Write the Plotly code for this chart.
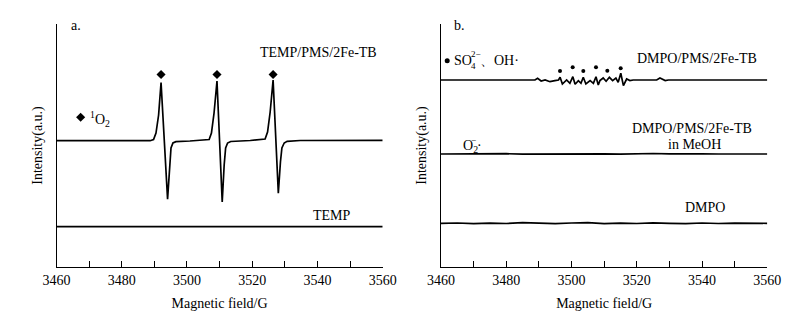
import plotly.graph_objects as go

# ---------------- data ----------------
# Panel a: TEMP/PMS/2Fe-TB spectrum (signal relative to its own baseline)
temp_pms_field = [3460, 3488.7, 3489.75, 3490.5, 3491.3, 3492.05, 3494.05, 3494.65, 3495.1,
                  3495.7, 3496.6, 3500.9, 3505.5, 3506.8, 3507.5, 3508.3, 3509.2, 3510.8,
                  3511.4, 3511.85, 3512.45, 3513.4, 3519.4, 3523.0, 3523.95, 3524.7, 3525.5,
                  3526.4, 3528.0, 3528.65, 3529.1, 3529.8, 3530.7, 3534.7, 3560]
temp_pms_signal = [0, 0, 1.2, 7.7, 25.7, 58.2, -58.6, -24.3, -7.3,
                   -2.3, -1.0, -0.3, 0.4, 1.2, 7.7, 27.7, 59.7, -61.3,
                   -24.3, -7.3, -2.3, -0.8, 0.2, 0.9, 1.7, 8.7, 28.7,
                   60.7, -52.6, -21.3, -7.3, -2.3, -0.6, 0.2, 0.4]
temp_pms_offset = 126.3

temp_field = [3460, 3560]
temp_signal = [0, 0]
temp_offset = 40.3

singlet_peak_field = [3492.05, 3509.2, 3526.4]
singlet_marker_level = 192.5

# Panel b: DMPO/PMS/2Fe-TB spectrum
dmpo_pms_field = [3460, 3487.3, 3488.8, 3489.6, 3490.7, 3491.9, 3493.4, 3494.9, 3496.0,
                  3496.5, 3497.2, 3498.5, 3499.5, 3500.4, 3501.1, 3502.1, 3502.9, 3503.6,
                  3504.4, 3505.7, 3506.7, 3507.5, 3508.2, 3508.7, 3509.7, 3510.6, 3511.6,
                  3512.6, 3513.6, 3514.3, 3515.1, 3515.9, 3516.9, 3517.9, 3518.9, 3526.1,
                  3527.1, 3528.7, 3529.7, 3560]
dmpo_pms_signal = [0, 0, 0, 1.7, -1.0, 0, -1.7, -0.7, 0,
                   2.7, -4.0, 0, -3.3, 3.3, -4.3, -0.7, -3.3, 2.7,
                   -4.0, -0.7, -3.3, 3.3, -5.0, -0.6, 2.0, -1.3, 2.7,
                   -0.6, 2.0, -2.3, 6.7, -5.6, 1.0, -0.6, 0, 0,
                   2.0, -0.6, 0, 0]
dmpo_pms_offset = 187.0

noise_field = [3460, 3465, 3470, 3475, 3480, 3485, 3490, 3495, 3500, 3505, 3510,
               3515, 3520, 3525, 3530, 3535, 3540, 3545, 3550, 3555, 3560]
meoh_signal = [0, 0.2, -0.2, 0.1, 0.3, -0.2, 0, 0.2, -0.3, 0.1, 0.2,
               -0.2, 0.3, 0.5, 0.2, -0.2, 0.1, 0, -0.1, 0.1, 0]
meoh_offset = 113.0
dmpo_signal = [0, 0.3, -0.3, 0.2, -0.2, 0.6, 0.2, -0.4, 0.3, 0.7, -0.3,
               0.2, -0.2, 0.4, 0, -0.3, 0.3, -0.2, 0.2, -0.1, 0]
dmpo_offset = 43.7

radical_peak_field = [3496.47, 3500.36, 3503.61, 3507.50, 3510.97, 3515.07]
radical_marker_level = [196, 199.7, 196, 199.7, 196.3, 198.7]

x_ticks = [3460, 3480, 3500, 3520, 3540, 3560]
y_range = [0, 243]

FONT = "Liberation Serif"
LINE = dict(color="black", width=1.7)

fig = go.Figure()

# ---- panel a ----
fig.add_trace(go.Scatter(x=temp_pms_field, y=[v + temp_pms_offset for v in temp_pms_signal],
                         mode="lines", line=LINE, xaxis="x", yaxis="y", showlegend=False))
fig.add_trace(go.Scatter(x=temp_field, y=[v + temp_offset for v in temp_signal],
                         mode="lines", line=LINE, xaxis="x", yaxis="y", showlegend=False))
fig.add_trace(go.Scatter(x=singlet_peak_field, y=[singlet_marker_level] * len(singlet_peak_field),
                         mode="markers", marker=dict(symbol="diamond", size=7, color="black"),
                         xaxis="x", yaxis="y", showlegend=False, cliponaxis=False))
fig.add_trace(go.Scatter(x=[3467.4], y=[149.7], mode="markers",
                         marker=dict(symbol="diamond", size=7, color="black"),
                         xaxis="x", yaxis="y", showlegend=False))

# ---- panel b ----
fig.add_trace(go.Scatter(x=dmpo_pms_field, y=[v + dmpo_pms_offset for v in dmpo_pms_signal],
                         mode="lines", line=LINE, xaxis="x2", yaxis="y2", showlegend=False))
fig.add_trace(go.Scatter(x=noise_field, y=[v + meoh_offset for v in meoh_signal],
                         mode="lines", line=LINE, xaxis="x2", yaxis="y2", showlegend=False))
fig.add_trace(go.Scatter(x=noise_field, y=[v + dmpo_offset for v in dmpo_signal],
                         mode="lines", line=LINE, xaxis="x2", yaxis="y2", showlegend=False))
fig.add_trace(go.Scatter(x=radical_peak_field, y=radical_marker_level,
                         mode="markers", marker=dict(symbol="circle", size=4, color="black"),
                         xaxis="x2", yaxis="y2", showlegend=False))
fig.add_trace(go.Scatter(x=[3461.9], y=[206.3], mode="markers",
                         marker=dict(symbol="circle", size=5, color="black"),
                         xaxis="x2", yaxis="y2", showlegend=False))

# the page body has an 8px margin, so the figure is drawn 8px in from the top-left
PAGE_PAD = 8
W, H = 799 - PAGE_PAD, 318 - PAGE_PAD
def px_x(p):
    return (p - PAGE_PAD) / W
def px_y(p):
    return (H - (p - PAGE_PAD)) / H

y_dom = [px_y(267), px_y(24)]

def xaxis(domain, anchor):
    return dict(domain=domain, anchor=anchor, range=[3460, 3560], showgrid=False, zeroline=False,
                automargin=False,
                showline=True, linecolor="black", linewidth=1.3,
                tickmode="array", tickvals=x_ticks, ticks="inside", ticklen=6, tickwidth=1.3,
                tickcolor="black", ticklabelstandoff=0,
                minor=dict(dtick=10, tick0=3460, ticks="inside", ticklen=6, tickwidth=1.3,
                           tickcolor="black", showgrid=False),
                tickfont=dict(family=FONT, size=14, color="black"),
                title=dict(text="Magnetic field/G", font=dict(family=FONT, size=14, color="black"),
                           standoff=11))

def yaxis(anchor):
    return dict(domain=y_dom, anchor=anchor, range=y_range, showgrid=False, zeroline=False,
                automargin=False,
                showline=True, linecolor="black", linewidth=1.3,
                tickmode="array", tickvals=[y_range[1]], ticks="inside", ticklen=5, tickwidth=1.3,
                tickcolor="black", showticklabels=False,
                title=dict(text="Intensity(a.u.)", font=dict(family=FONT, size=14, color="black"),
                           standoff=9))

fig.update_layout(
    width=W, height=H, margin=dict(l=0, r=0, t=0, b=0, autoexpand=False),
    paper_bgcolor="white", plot_bgcolor="white",
    xaxis=xaxis([px_x(56.5), px_x(382.7)], "y"),
    yaxis=yaxis("x"),
    xaxis2=xaxis([px_x(441), px_x(767.3)], "y2"),
    yaxis2=yaxis("x2"),
    font=dict(family=FONT, size=14, color="black"),
)

def ann(text, x, y, xref, yref, xanchor="left", size=14):
    fig.add_annotation(text=text, x=x, y=y, xref=xref, yref=yref, xanchor=xanchor,
                       yanchor="middle", showarrow=False, borderpad=0,
                       font=dict(family=FONT, size=size, color="black"))

# panel a labels
ann("a.", 3464.1, 242, "x", "y")
ann("<sup>1</sup>O<sub>2</sub>", 3469.9, 148, "x", "y")
ann("TEMP/PMS/2Fe-TB", 3558.7, 215, "x", "y", xanchor="right")
ann("TEMP", 3550.6, 51.5, "x", "y", xanchor="right")

# panel b labels
ann("SO", 3463.6, 206.5, "x2", "y2")
ann("2−", 3468.8, 213.5, "x2", "y2", size=9)
ann("4", 3468.8, 201.5, "x2", "y2", size=9)
ann("、OH·", 3471.6, 206.5, "x2", "y2")
ann("b.", 3463.8, 242, "x2", "y2")
ann("DMPO/PMS/2Fe-TB", 3557.1, 209, "x2", "y2", xanchor="right")
ann("O<sub>2</sub>", 3466.3, 121, "x2", "y2")
ann("−", 3469.0, 127, "x2", "y2", size=9)
ann("·", 3470.6, 122, "x2", "y2")
ann("DMPO/PMS/2Fe-TB", 3536.9, 139, "x2", "y2", xanchor="center")
ann("in MeOH", 3537.8, 123, "x2", "y2", xanchor="center")
ann("DMPO", 3540.9, 60, "x2", "y2", xanchor="center")

fig.write_html("out.html")
